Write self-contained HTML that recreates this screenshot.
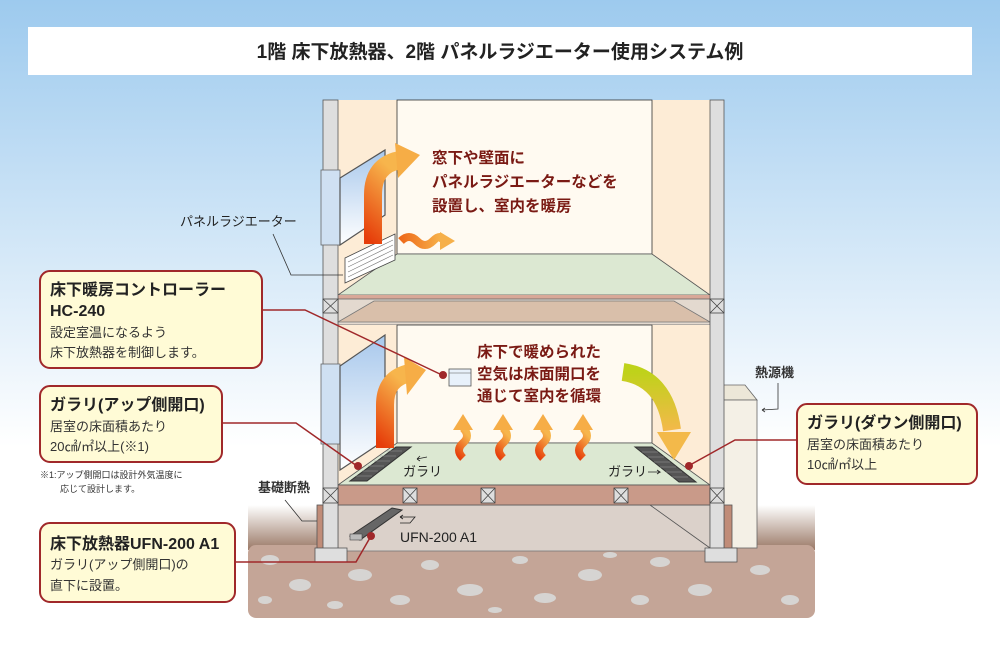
<!DOCTYPE html>
<html><head><meta charset="utf-8"><style>
body{margin:0;width:1000px;height:657px;overflow:hidden;font-family:"Liberation Sans","Noto Sans CJK JP",sans-serif}
svg{display:block}
</style></head><body>
<svg width="1000" height="657" viewBox="0 0 1000 657" xmlns="http://www.w3.org/2000/svg" font-family="Liberation Sans, Noto Sans CJK JP, sans-serif">
<defs>
<linearGradient id="sky" x1="0" y1="0" x2="0" y2="1"><stop offset="0" stop-color="#9dcaee"/><stop offset="0.68" stop-color="#ffffff"/><stop offset="1" stop-color="#ffffff"/></linearGradient>
<linearGradient id="org" x1="0" y1="1" x2="0.3" y2="0"><stop offset="0" stop-color="#e63d0a"/><stop offset="1" stop-color="#f7b54c"/></linearGradient>
<linearGradient id="orgh" x1="0" y1="0" x2="1" y2="0"><stop offset="0" stop-color="#ee6a1a"/><stop offset="1" stop-color="#f7b54c"/></linearGradient>
<linearGradient id="yg" x1="0" y1="0" x2="0" y2="1"><stop offset="0" stop-color="#bfd21a"/><stop offset="1" stop-color="#f3b94a"/></linearGradient>
<linearGradient id="soil" x1="0" y1="0" x2="0" y2="1"><stop offset="0" stop-color="#ffffff"/><stop offset="1" stop-color="#9a7866"/></linearGradient>
<linearGradient id="glass" x1="0" y1="0" x2="0" y2="1"><stop offset="0" stop-color="#a8c8ec"/><stop offset="1" stop-color="#ffffff"/></linearGradient>
</defs>
<rect width="1000" height="657" fill="url(#sky)"/>
<rect x="28" y="27" width="944" height="48" fill="#fff"/>
<text x="500" y="58" text-anchor="middle" font-size="19" font-weight="bold" fill="#222">1階 床下放熱器、2階 パネルラジエーター使用システム例</text>

<!-- ground -->
<rect x="248" y="505" width="567" height="45" fill="url(#soil)"/>
<rect x="248" y="545" width="567" height="73" rx="8" fill="#c4a597"/>
<g fill="#d6d4d2">
<ellipse cx="270" cy="560" rx="9" ry="5"/><ellipse cx="300" cy="585" rx="11" ry="6"/><ellipse cx="265" cy="600" rx="7" ry="4"/><ellipse cx="360" cy="575" rx="12" ry="6"/><ellipse cx="400" cy="600" rx="10" ry="5"/><ellipse cx="430" cy="565" rx="9" ry="5"/><ellipse cx="470" cy="590" rx="13" ry="6"/><ellipse cx="520" cy="560" rx="8" ry="4"/><ellipse cx="545" cy="598" rx="11" ry="5"/><ellipse cx="590" cy="575" rx="12" ry="6"/><ellipse cx="640" cy="600" rx="9" ry="5"/><ellipse cx="660" cy="562" rx="10" ry="5"/><ellipse cx="700" cy="590" rx="12" ry="6"/><ellipse cx="760" cy="570" rx="10" ry="5"/><ellipse cx="790" cy="600" rx="9" ry="5"/><ellipse cx="335" cy="605" rx="8" ry="4"/><ellipse cx="495" cy="610" rx="7" ry="3"/><ellipse cx="610" cy="555" rx="7" ry="3"/>
</g>
<!-- heat source -->
<polygon points="723,385 745,385 757,400 723,400" fill="#ece7d8" stroke="#666" stroke-width="0.8"/>
<rect x="723" y="400" width="34" height="148" fill="#f4f0e6" stroke="#666" stroke-width="0.8"/>

<!-- crawlspace -->
<rect x="338" y="505" width="372" height="46" fill="#dbd1ca" stroke="#777" stroke-width="0.8"/>
<line x1="650" y1="505" x2="710" y2="548" stroke="#555" stroke-width="0.8"/>
<rect x="317" y="505" width="7" height="50" fill="#c08c78" stroke="#555" stroke-width="0.8"/>
<rect x="724" y="505" width="8" height="50" fill="#c08c78" stroke="#555" stroke-width="0.8"/>

<!-- upper room -->
<rect x="338" y="100" width="372" height="197" fill="#fdecd6"/>
<rect x="397" y="100" width="255" height="154" fill="#fffaf1" stroke="#333" stroke-width="0.8"/>
<polygon points="338,295 710,295 652,254 397,254" fill="#dce8d2" stroke="#555" stroke-width="0.8"/>
<rect x="338" y="295" width="372" height="4" fill="#d8a898"/>
<rect x="338" y="299" width="372" height="26" fill="#e3d9cf" stroke="#666" stroke-width="0.8"/>
<polygon points="374,301 674,301 710,322 338,322" fill="#d9bfaa" stroke="#777" stroke-width="0.8"/>
<!-- lower room -->
<rect x="338" y="325" width="372" height="160" fill="#fdecd6"/>
<rect x="397" y="325" width="255" height="118" fill="#fffaf1" stroke="#333" stroke-width="0.8"/>
<polygon points="338,485 710,485 652,443 397,443" fill="#dce8d2" stroke="#555" stroke-width="0.8"/>
<rect x="338" y="485" width="372" height="20" fill="#c99a89" stroke="#555" stroke-width="0.8"/>
<!-- posts -->
<rect x="323" y="100" width="15" height="450" fill="#dedede" stroke="#555" stroke-width="0.8"/>
<rect x="710" y="100" width="14" height="450" fill="#dedede" stroke="#555" stroke-width="0.8"/>
<rect x="315" y="548" width="32" height="14" fill="#dedede" stroke="#555" stroke-width="0.8"/>
<rect x="705" y="548" width="32" height="14" fill="#dedede" stroke="#555" stroke-width="0.8"/>
<!-- X boxes -->
<g fill="#dedede" stroke="#444" stroke-width="0.8">
<rect x="323" y="299" width="15" height="14"/><rect x="710" y="299" width="14" height="14"/>
<rect x="323" y="488" width="15" height="15"/><rect x="403" y="488" width="14" height="15"/><rect x="481" y="488" width="14" height="15"/><rect x="614" y="488" width="14" height="15"/><rect x="710" y="488" width="14" height="15"/>
</g>
<g stroke="#444" stroke-width="0.8">
<path d="M323,299L338,313M338,299L323,313M710,299L724,313M724,299L710,313"/>
<path d="M323,488L338,503M338,488L323,503M403,488L417,503M417,488L403,503M481,488L495,503M495,488L481,503M614,488L628,503M628,488L614,503M710,488L724,503M724,488L710,503"/>
</g>

<!-- windows -->
<rect x="321" y="170" width="19" height="75" fill="#cfe0f2" stroke="#666" stroke-width="0.8"/>
<polygon points="340,178 385,150 385,215 340,245" fill="url(#glass)" stroke="#555" stroke-width="1.2"/>
<rect x="321" y="364" width="19" height="80" fill="#cfe0f2" stroke="#666" stroke-width="0.8"/>
<polygon points="340,366 385,335 385,440 340,470" fill="url(#glass)" stroke="#555" stroke-width="1.2"/>

<!-- panel radiator -->
<polygon points="345,258 395,234 395,260 345,283" fill="#fff" stroke="#444" stroke-width="0.8"/>
<g stroke="#777" stroke-width="0.6"><path d="M348,262L393,240M348,267L393,245M348,272L393,250M348,277L393,255"/></g>

<!-- upper arrows -->
<path d="M373,244 L373,195 Q373,165 400,160" fill="none" stroke="url(#org)" stroke-width="18"/>
<polygon points="395,143 420,155 398,178" fill="#f6ad46"/>
<path d="M401,241 q8,-8 16,0 t16,0 t10,0" fill="none" stroke="url(#orgh)" stroke-width="8"/>
<polygon points="440,232 455,241 440,250" fill="#f6b04a"/>
<text font-size="15.5" font-weight="bold" fill="#7a1a14"><tspan x="432" y="163">窓下や壁面に</tspan><tspan x="432" y="187">パネルラジエーターなどを</tspan><tspan x="432" y="211">設置し、室内を暖房</tspan></text>

<!-- lower arrows -->
<path d="M385,448 L385,405 Q385,378 410,373" fill="none" stroke="url(#org)" stroke-width="18"/>
<polygon points="404,357 426,370 407,395" fill="#f6ad46"/>
<g fill="none" stroke="url(#org)" stroke-width="8">
<path d="M463,458 q-8,-8 0,-15 t0,-15"/><path d="M503,458 q-8,-8 0,-15 t0,-15"/><path d="M543,458 q-8,-8 0,-15 t0,-15"/><path d="M583,458 q-8,-8 0,-15 t0,-15"/>
</g>
<g fill="#f6ad46"><polygon points="453,430 463,414 473,430"/><polygon points="493,430 503,414 513,430"/><polygon points="533,430 543,414 553,430"/><polygon points="573,430 583,414 593,430"/></g>
<path d="M623,372 Q665,378 672,430" fill="none" stroke="url(#yg)" stroke-width="18"/>
<polygon points="657,432 691,432 674,460" fill="#f3b94a"/>
<text font-size="15.5" font-weight="bold" fill="#7a1a14"><tspan x="477" y="357">床下で暖められた</tspan><tspan x="477" y="379">空気は床面開口を</tspan><tspan x="477" y="401">通じて室内を循環</tspan></text>

<!-- grilles -->
<polygon points="350,481 367,481 411,447 396,447" fill="#555" stroke="#333"/>
<polygon points="635,447 652,447 696,482 679,482" fill="#555" stroke="#333"/>
<g stroke="#999" stroke-width="0.6"><path d="M356,476L372,476M362,471L378,471M368,466L384,466M374,461L390,461M380,456L396,456M386,451L402,451"/><path d="M642,452L658,452M648,457L664,457M654,462L670,462M660,467L676,467M666,472L682,472M672,477L688,477"/></g>
<!-- UFN -->
<polygon points="350,536 392,508 402,510 360,540" fill="#666" stroke="#333"/>
<rect x="350" y="534" width="12" height="6" fill="#bbb" stroke="#444" stroke-width="0.6"/>

<!-- controller -->
<rect x="449" y="369" width="22" height="17" fill="#e8f1fb" stroke="#555" stroke-width="0.8"/>
<line x1="449" y1="373" x2="471" y2="373" stroke="#555" stroke-width="0.6"/>

<!-- small labels -->
<text x="403" y="476" font-size="13" fill="#222">ガラリ</text>
<path d="M417,459 l10,-2 M417,459 l3,-3 M417,459 l3,2" stroke="#222" stroke-width="0.8" fill="none"/>
<text x="608" y="476" font-size="13" fill="#222">ガラリ</text>
<path d="M648,472 l12,0 l-3,-2 M660,472 l-3,2" stroke="#222" stroke-width="0.8" fill="none"/>
<text x="400" y="542" font-size="14" fill="#222">UFN-200 A1</text>
<path d="M400,523 l10,0 l5,-6 l-15,0 M400,517 l3,-2 M400,517 l3,2" stroke="#222" stroke-width="0.8" fill="none"/>
<text x="180" y="226" font-size="13" fill="#222">パネルラジエーター</text>
<path d="M273,234 L291,275 L343,275" stroke="#333" stroke-width="0.8" fill="none"/>
<text x="258" y="492" font-size="13" font-weight="bold" fill="#333">基礎断熱</text>
<path d="M285,500 L302,521 L317,521" stroke="#333" stroke-width="0.8" fill="none"/>
<text x="755" y="377" font-size="13" font-weight="bold" fill="#333">熱源機</text>
<path d="M778,383 L778,409 L762,410 M762,410 l3,-2 M762,410 l3,2" stroke="#333" stroke-width="0.8" fill="none"/>

<!-- leaders -->
<g stroke="#a0282a" stroke-width="1.5" fill="none">
<path d="M262,310 L305,310 L442,375"/>
<path d="M222,423 L296,423 L357,466"/>
<path d="M235,562 L356,562 L371,536"/>
<path d="M797,440 L735,440 L690,465"/>
</g>
<g fill="#a0282a"><circle cx="443" cy="375" r="4"/><circle cx="358" cy="466" r="4"/><circle cx="371" cy="536" r="4"/><circle cx="689" cy="466" r="4"/></g>

<!-- callouts -->
<g fill="#fffbd6" stroke="#a0282a" stroke-width="2">
<rect x="40" y="271" width="222" height="97" rx="10"/>
<rect x="40" y="386" width="182" height="76" rx="10"/>
<rect x="40" y="523" width="195" height="79" rx="10"/>
<rect x="797" y="404" width="180" height="80" rx="10"/>
</g>
<g fill="#222">
<text x="50" y="295" font-size="16" font-weight="bold">床下暖房コントローラー</text>
<text x="50" y="316" font-size="16" font-weight="bold">HC-240</text>
<text x="50" y="337" font-size="13" fill="#333">設定室温になるよう</text>
<text x="50" y="357" font-size="13" fill="#333">床下放熱器を制御します。</text>
<text x="50" y="410" font-size="16" font-weight="bold">ガラリ(アップ側開口)</text>
<text x="50" y="431" font-size="13" fill="#333">居室の床面積あたり</text>
<text x="50" y="451" font-size="13" fill="#333">20㎠/㎡以上(※1)</text>
<text x="40" y="478" font-size="9" fill="#333">※1:アップ側開口は設計外気温度に</text>
<text x="60" y="492" font-size="9" fill="#333">応じて設計します。</text>
<text x="50" y="549" font-size="16" font-weight="bold">床下放熱器UFN-200 A1</text>
<text x="50" y="569" font-size="13" fill="#333">ガラリ(アップ側開口)の</text>
<text x="50" y="590" font-size="13" fill="#333">直下に設置。</text>
<text x="807" y="428" font-size="16" font-weight="bold">ガラリ(ダウン側開口)</text>
<text x="807" y="449" font-size="13" fill="#333">居室の床面積あたり</text>
<text x="807" y="469" font-size="13" fill="#333">10㎠/㎡以上</text>
</g>
</svg>
</body></html>
